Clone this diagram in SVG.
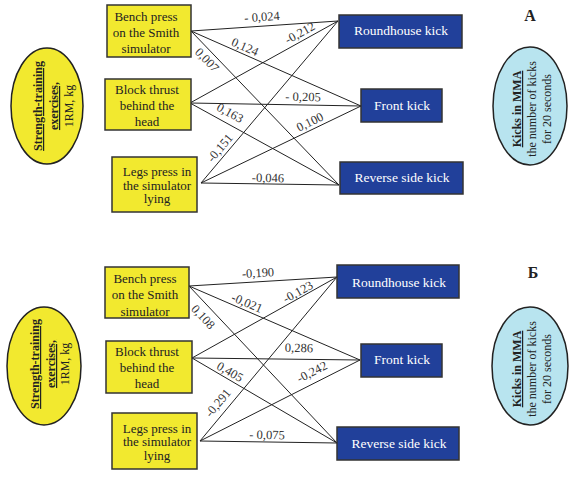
<svg xmlns="http://www.w3.org/2000/svg" width="569" height="477" viewBox="0 0 569 477">
<style>
text{font-family:"Liberation Serif","Times New Roman",serif;fill:#222}
.ex rect{fill:#f2e92f;stroke:#333;stroke-width:1.5}
.ex text{font-size:13px;text-anchor:middle}
.kk rect{fill:#21409a;stroke:#333;stroke-width:1.5}
.kk text{font-size:13.5px;text-anchor:middle;fill:#fff}
.el1{fill:#f2e92f;stroke:#222;stroke-width:1.5}
.el2{fill:#b8e4ef;stroke:#222;stroke-width:1.5}
.et{font-size:12px;text-anchor:middle}
.b{font-weight:bold;text-decoration:underline}
.lbl{font-size:12.5px;text-anchor:middle;fill:#333}
.pl{font-size:16px;font-weight:bold;text-anchor:middle}
#connectors line{stroke:#222;stroke-width:1}
</style>
<g id="connectors">
<line x1="191" y1="31" x2="338" y2="21"/>
<line x1="191" y1="31" x2="361" y2="106"/>
<line x1="191" y1="31" x2="339" y2="185"/>
<line x1="190" y1="103" x2="338" y2="21"/>
<line x1="190" y1="103" x2="361" y2="106"/>
<line x1="190" y1="103" x2="339" y2="185"/>
<line x1="201" y1="183" x2="338" y2="21"/>
<line x1="201" y1="183" x2="361" y2="106"/>
<line x1="201" y1="183" x2="339" y2="185"/>
<line x1="189" y1="286" x2="337" y2="277"/>
<line x1="189" y1="286" x2="360" y2="360"/>
<line x1="189" y1="286" x2="337" y2="443"/>
<line x1="192" y1="358" x2="337" y2="277"/>
<line x1="192" y1="358" x2="360" y2="360"/>
<line x1="192" y1="358" x2="337" y2="443"/>
<line x1="200" y1="441" x2="337" y2="277"/>
<line x1="200" y1="441" x2="360" y2="360"/>
<line x1="200" y1="441" x2="337" y2="443"/>
</g>
<g id="labels">
<text class="lbl" transform="translate(262,17) rotate(-4)" y="4">- 0,024</text>
<text class="lbl" transform="translate(300,33) rotate(-29)" y="4">-0,212</text>
<text class="lbl" transform="translate(245,47) rotate(24)" y="4">0,124</text>
<text class="lbl" transform="translate(207,60) rotate(46)" y="4">0,007</text>
<text class="lbl" transform="translate(303,97) rotate(1)" y="4">- 0,205</text>
<text class="lbl" transform="translate(230,113) rotate(29)" y="4">0,163</text>
<text class="lbl" transform="translate(310,122) rotate(-26)" y="4">0,100</text>
<text class="lbl" transform="translate(220,148) rotate(-50)" y="4">-0,151</text>
<text class="lbl" transform="translate(268,178) rotate(1)" y="4">-0,046</text>
<text class="lbl" transform="translate(258,273) rotate(-3.5)" y="4">-0,190</text>
<text class="lbl" transform="translate(298,292) rotate(-29)" y="4">-0,123</text>
<text class="lbl" transform="translate(247,303) rotate(23)" y="4">-0,021</text>
<text class="lbl" transform="translate(203,317) rotate(47)" y="4">0,108</text>
<text class="lbl" transform="translate(299,348) rotate(1)" y="4">0,286</text>
<text class="lbl" transform="translate(230,372) rotate(30)" y="4">0,405</text>
<text class="lbl" transform="translate(312,372) rotate(-27)" y="4">-0,242</text>
<text class="lbl" transform="translate(218,403) rotate(-50)" y="4">-0,291</text>
<text class="lbl" transform="translate(267,435) rotate(1)" y="4">- 0,075</text>
</g>
<g id="panelA-left">
<ellipse class="el1" cx="47" cy="106" rx="36" ry="58"/>
<text class="et b" transform="translate(42,106) rotate(-90)">Strength-training</text>
<text class="et b" transform="translate(58,106) rotate(-90)">exercises,</text>
<text class="et" transform="translate(73,106) rotate(-90)">1RM, kg</text>
</g>
<g id="A-bench" class="ex"><rect x="107" y="5" width="84" height="52"/><text x="146" y="21">Bench press</text><text x="146" y="36.5">on the Smith</text><text x="146" y="52.5">simulator</text></g>
<g id="A-block" class="ex"><rect x="105" y="79" width="86" height="51"/><text x="147" y="93.5">Block thrust</text><text x="147" y="110">behind the</text><text x="147" y="126">head</text></g>
<g id="A-legs" class="ex"><rect x="112" y="157" width="85" height="55"/><text x="157" y="176">Legs press in</text><text x="157" y="189.5">the simulator</text><text x="157" y="203">lying</text></g>
<g id="A-roundhouse" class="kk"><rect x="339" y="15" width="123" height="33"/><text x="401" y="34.5">Roundhouse kick</text></g>
<g id="A-front" class="kk"><rect x="361" y="89" width="81" height="33"/><text x="402" y="109.5">Front kick</text></g>
<g id="A-reverse" class="kk"><rect x="340" y="162" width="123" height="32"/><text x="402" y="181.5">Reverse side kick</text></g>
<text class="pl" x="530" y="21">А</text>
<g id="panelA-right">
<ellipse class="el2" cx="530" cy="106" rx="37" ry="59"/>
<text class="et b" transform="translate(521,109) rotate(-90)">Kicks in MMA</text>
<text class="et" transform="translate(536,109) rotate(-90)">the number of kicks</text>
<text class="et" transform="translate(551,109) rotate(-90)">for 20 seconds</text>
</g>
<g id="panelB-left">
<ellipse class="el1" cx="44" cy="366" rx="37" ry="59"/>
<text class="et b" transform="translate(39,364) rotate(-90)">Strength-training</text>
<text class="et b" transform="translate(55,364) rotate(-90)">exercises,</text>
<text class="et" transform="translate(69,364) rotate(-90)">1RM, kg</text>
</g>
<g id="B-bench" class="ex"><rect x="105" y="267" width="84" height="51"/><text x="145" y="282.5">Bench press</text><text x="145" y="299">on the Smith</text><text x="145" y="315.5">simulator</text></g>
<g id="B-block" class="ex"><rect x="106" y="341" width="86" height="52"/><text x="147" y="356">Block thrust</text><text x="147" y="371.5">behind the</text><text x="147" y="387.5">head</text></g>
<g id="B-legs" class="ex"><rect x="112" y="413" width="85" height="56"/><text x="157" y="432.5">Legs press in</text><text x="157" y="446">the simulator</text><text x="157" y="459.5">lying</text></g>
<g id="B-roundhouse" class="kk"><rect x="337" y="265" width="122" height="33"/><text x="399" y="286.5">Roundhouse kick</text></g>
<g id="B-front" class="kk"><rect x="361" y="344" width="81" height="33"/><text x="402" y="363.5">Front kick</text></g>
<g id="B-reverse" class="kk"><rect x="337" y="427" width="122" height="33"/><text x="399" y="447.5">Reverse side kick</text></g>
<text class="pl" x="533" y="278">Б</text>
<g id="panelB-right">
<ellipse class="el2" cx="530" cy="366" rx="38" ry="59"/>
<text class="et b" transform="translate(521,369) rotate(-90)">Kicks in MMA</text>
<text class="et" transform="translate(536,369) rotate(-90)">the number of kicks</text>
<text class="et" transform="translate(551,369) rotate(-90)">for 20 seconds</text>
</g>
</svg>
